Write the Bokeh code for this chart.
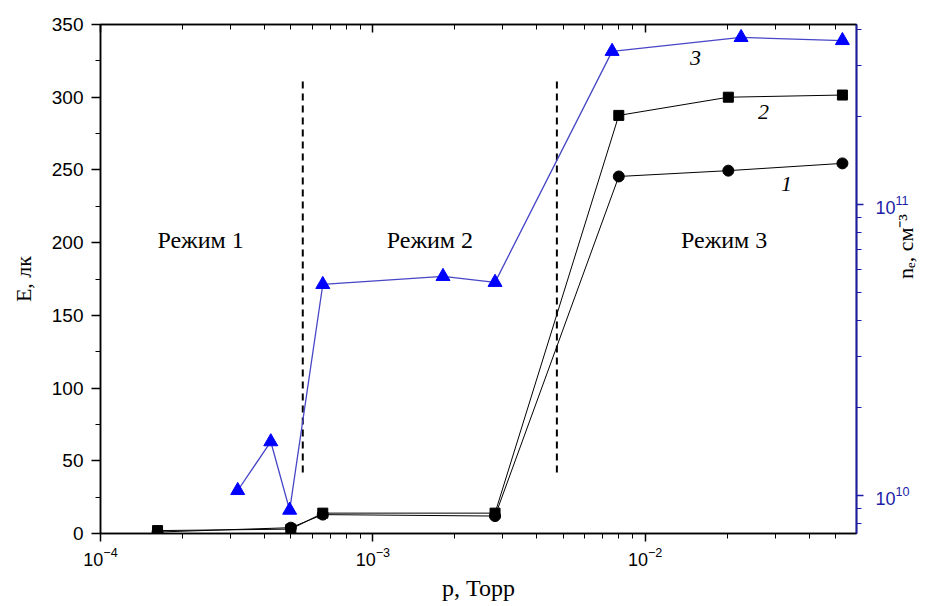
from bokeh.plotting import figure
from bokeh.models import (Range1d, LogScale, LogAxis, Label, SingleIntervalTicker,
                          LogTicker, FixedTicker, LogTickFormatter, CustomJSTickFormatter)
from bokeh.embed import file_html
from bokeh.resources import INLINE
import math

# ---------------- data ----------------
# pressure, Torr (series 1 and 2)
p_e = [1.62e-4, 5.0e-4, 6.55e-4, 2.81e-3, 8.0e-3, 2.02e-2, 5.3e-2]
# illuminance E, lx
E_1 = [1, 4, 13, 12, 245.5, 249.5, 254.5]
E_2 = [2, 3, 14, 14, 287.5, 300, 301.5]
# pressure, Torr (series 3)
p_n = [3.19e-4, 4.22e-4, 4.95e-4, 6.55e-4, 1.81e-3, 2.81e-3, 7.56e-3, 2.25e-2, 5.3e-2]
# electron density n_e, cm^-3
n_3 = [1.04e10, 1.53e10, 8.9e9, 5.31e10, 5.66e10, 5.40e10, 3.36e11, 3.75e11, 3.66e11]
# right-axis ticks
ne_major = [1e10, 1e11]
ne_minor = [8e9, 9e9, 2e10, 3e10, 4e10, 5e10, 6e10, 7e10, 8e10, 9e10, 2e11, 3e11, 4e11]
# regime boundaries (Torr) and dashed-line extent (lx)
regime_bounds = [5.53e-4, 4.74e-3]
dash_lo, dash_hi = 42, 313
regime_names = ["Режим 1", "Режим 2", "Режим 3"]
regime_x = [2.33e-4, 1.62e-3, 1.95e-2]
regime_y = 201.5
curve_ids = ["1", "2", "3"]
curve_id_x = [3.3e-2, 2.72e-2, 1.53e-2]
curve_id_y = [240, 290, 327]

BLUE_AX = "#1c1ca8"
SERIF = "Liberation Serif"
SANS = "Liberation Sans"

p = figure(width=933, height=606, x_axis_type="log",
           x_range=Range1d(1e-4, 0.0597), y_range=Range1d(0, 350),
           output_backend="svg", toolbar_location=None,
           min_border_left=100, min_border_right=77,
           min_border_top=24, min_border_bottom=73)
p.xgrid.visible = False
p.ygrid.visible = False
p.outline_line_color = "black"
p.outline_line_width = 1.5
p.background_fill_color = "white"
p.border_fill_color = "white"

# bottom axis
xa = p.xaxis[0]
xa.ticker = LogTicker(num_minor_ticks=10)
xa.axis_line_width = 1.5
xa.major_tick_out = 8
xa.major_tick_in = 0
xa.minor_tick_out = 5
xa.minor_tick_in = 0
xa.major_tick_line_width = 1.5
xa.major_label_text_font = SANS
xa.major_label_text_font_size = "18px"
xa.major_label_text_color = "black"
xa.major_label_standoff = 5
xa.axis_label = "p, Торр"
xa.axis_label_text_font = SERIF
xa.axis_label_text_font_style = "normal"
xa.axis_label_text_font_size = "24px"
xa.axis_label_text_color = "black"
xa.axis_label_standoff = 6

# left axis
ya = p.yaxis[0]
ya.ticker = SingleIntervalTicker(interval=50, num_minor_ticks=2)
ya.axis_line_width = 1.5
ya.major_tick_out = 9
ya.major_tick_in = 0
ya.minor_tick_out = 5
ya.minor_tick_in = 0
ya.major_tick_line_width = 1.5
ya.major_label_text_font = SANS
ya.major_label_text_font_size = "19px"
ya.major_label_text_color = "black"
ya.major_label_standoff = 8
ya.axis_label = "E, лк"
ya.axis_label_text_font = SERIF
ya.axis_label_text_font_style = "normal"
ya.axis_label_text_font_size = "22px"
ya.axis_label_text_color = "black"
ya.axis_label_standoff = 13

# top mirror axis (ticks only)
ta = LogAxis(ticker=LogTicker(num_minor_ticks=10),
             formatter=CustomJSTickFormatter(code="return ''"),
             major_tick_in=8, major_tick_out=0, minor_tick_in=5, minor_tick_out=0,
             major_label_standoff=0, axis_line_width=1.5, major_tick_line_width=1.5)
p.add_layout(ta, "above")

# right log axis for n_e
p.extra_y_ranges = {"ne": Range1d(7.40e9, 4.155e11)}
p.extra_y_scales = {"ne": LogScale()}
ra = LogAxis(y_range_name="ne",
             ticker=FixedTicker(ticks=ne_major, minor_ticks=ne_minor),
             formatter=LogTickFormatter())
ra.axis_line_color = BLUE_AX
ra.axis_line_width = 1.8
ra.major_tick_line_color = BLUE_AX
ra.minor_tick_line_color = BLUE_AX
ra.major_tick_line_width = 1.5
ra.major_tick_out = 7
ra.major_tick_in = 0
ra.minor_tick_out = 5
ra.minor_tick_in = 0
ra.major_label_text_color = BLUE_AX
ra.major_label_text_font = SANS
ra.major_label_text_font_size = "18px"
ra.major_label_standoff = 12
ra.axis_label = "nₑ, см⁻³"
ra.axis_label_text_font = SERIF
ra.axis_label_text_font_style = "normal"
ra.axis_label_text_font_size = "22px"
ra.axis_label_text_color = "black"
ra.axis_label_standoff = -7
ra.axis_label_orientation = math.pi / 2
p.add_layout(ra, "right")

# dashed regime boundaries
p.segment(x0=regime_bounds, x1=regime_bounds, y0=[dash_lo] * 2, y1=[dash_hi] * 2,
          line_color="black", line_width=2, line_dash="7 5")

# series
p.line(p_e, E_1, line_color="black", line_width=1)
p.scatter(p_e, E_1, marker="circle", size=11, color="black")
p.line(p_e, E_2, line_color="black", line_width=1)
p.scatter(p_e, E_2, marker="square", size=10, color="black")
p.line(p_n, n_3, y_range_name="ne", line_color="#4646c6", line_width=1.3)
p.scatter(p_n, n_3, y_range_name="ne", marker="triangle", size=14, color="#0000ff")

# regime labels
for name, rx in zip(regime_names, regime_x):
    p.add_layout(Label(x=rx, y=regime_y, text=name, text_align="center",
                       text_baseline="middle", text_font=SERIF,
                       text_font_size="24px", text_color="black"))
for cid, cx, cy in zip(curve_ids, curve_id_x, curve_id_y):
    p.add_layout(Label(x=cx, y=cy, text=cid, text_align="center",
                       text_baseline="middle", text_font=SERIF,
                       text_font_style="italic", text_font_size="22px",
                       text_color="black"))

open("out.html", "w").write(file_html(p, INLINE))
